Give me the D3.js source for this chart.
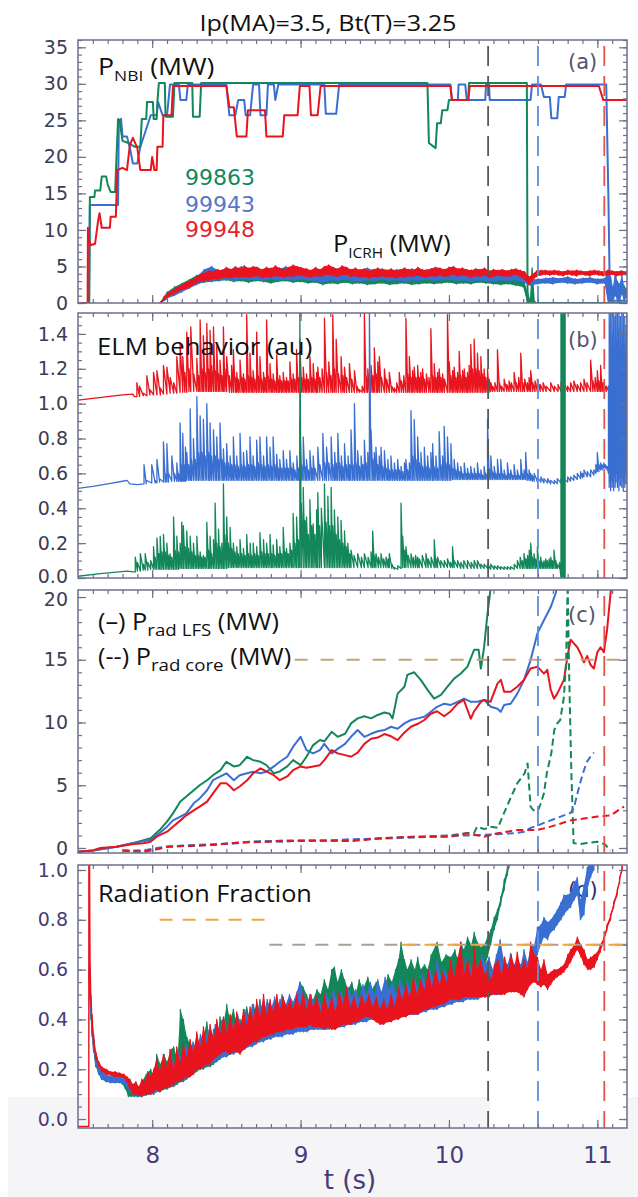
<!DOCTYPE html>
<html>
<head>
<meta charset="utf-8">
<script src="https://cdn.jsdelivr.net/npm/d3@7"></script>
<style>
  html, body { margin: 0; padding: 0; background: #fff; }
  svg { display: block; }
</style>
</head>
<body>
<svg id="chart" width="638" height="1197"></svg>
<script>
// ---------------- time axis ----------------
const timeDomain = [7.5, 11.2];
const xTickLabels = [8, 9, 10, 11];

// ---------------- y tick labels per panel ----------------
const yTicksA = [0, 5, 10, 15, 20, 25, 30, 35];
const yTicksB = [0, 0.2, 0.4, 0.6, 0.8, 1.0, 1.2, 1.4];
const yTicksC = [0, 5, 10, 15, 20];
const yTicksD = [0, 0.2, 0.4, 0.6, 0.8, 1.0];

// shots
const shots = ["99863", "99943", "99948"];

// event times (s) for the three shots
const eventTimes = [10.264, 10.60, 11.047];

// ---------------- (a) NBI power [t, MW] ----------------
const nbi99863 = [[7.50,0],[7.575,0],[7.58,14.5],[7.61,14.5],[7.615,15.4],[7.65,15.4],[7.66,17.3],[7.69,17.3],[7.70,16.2],[7.72,15.2],[7.75,15.2],[7.77,25.2],[7.78,25.0],[7.80,22.2],[7.84,21.9],[7.88,21.4],[7.92,21.4],[7.93,25.2],[7.96,25.2],[7.965,27.5],[8.005,27.5],[8.01,25.2],[8.03,25.2],[8.035,27.5],[8.045,30.1],[8.085,30.1],[8.09,25.5],[8.14,25.5],[8.15,30.1],[8.27,30.1],[8.275,25.5],[8.32,25.5],[8.33,30.1],[9.855,30.1],[9.865,21.9],[9.91,21.2],[9.92,24.6],[9.945,24.6],[9.955,26.4],[9.99,26.4],[10.0,27.8],[10.13,27.8],[10.135,30.1],[10.525,30.1],[10.53,0],[11.20,0]];
const nbi99943 = [[7.50,0],[7.575,0],[7.58,13.4],[7.77,13.4],[7.775,24.8],[7.79,25.2],[7.80,22.8],[7.83,22.8],[7.85,21.2],[7.87,19.1],[7.90,19.1],[7.92,21.4],[7.95,23.2],[7.99,25.7],[8.03,25.7],[8.04,27.5],[8.07,25.7],[8.10,25.7],[8.12,29.9],[8.18,29.9],[8.19,27.8],[8.23,27.8],[8.24,29.9],[8.50,29.9],[8.52,25.7],[8.56,25.7],[8.58,27.8],[8.62,27.8],[8.63,25.7],[8.66,25.7],[8.68,29.9],[8.72,29.9],[8.73,25.7],[8.77,25.7],[8.78,29.9],[8.82,29.9],[8.83,27.8],[8.85,29.9],[9.16,29.9],[9.17,25.9],[9.24,25.9],[9.26,29.9],[10.01,29.9],[10.02,27.8],[10.06,27.8],[10.065,29.9],[10.11,29.9],[10.12,27.8],[10.245,27.8],[10.25,29.9],[10.27,29.9],[10.275,27.8],[10.55,27.8],[10.56,29.9],[10.62,29.9],[10.64,28.2],[10.68,28.2],[10.69,25.3],[10.73,25.3],[10.74,28.2],[10.78,28.2],[10.79,29.9],[11.06,29.9],[11.075,14],[11.085,0.3],[11.20,0.3]];
const nbi99948 = [[7.50,0],[7.565,0],[7.567,10.3],[7.575,8.7],[7.585,7.9],[7.615,8.1],[7.635,11.2],[7.645,12.3],[7.66,10.3],[7.715,10.3],[7.72,11.8],[7.755,11.8],[7.765,18.2],[7.80,18.5],[7.83,18.2],[7.85,21.7],[7.87,22.6],[7.90,21.2],[7.92,18.2],[7.99,18.2],[8.00,20.0],[8.015,18.2],[8.03,18.2],[8.035,21.4],[8.07,21.4],[8.075,25.7],[8.13,25.7],[8.14,29.7],[8.50,29.7],[8.52,26.8],[8.55,26.8],[8.57,22.8],[8.635,22.8],[8.645,26.4],[8.76,26.4],[8.77,22.8],[8.88,22.8],[8.89,25.7],[8.98,25.7],[8.995,29.7],[9.06,29.7],[9.07,25.7],[9.115,25.7],[9.135,29.7],[10.01,29.7],[10.02,27.8],[10.13,27.8],[10.14,29.7],[11.01,29.7],[11.04,27.8],[11.20,27.8]];

// ---------------- (a) ICRH power [t, low, high] ----------------
const icrh99863 = [[8.05,0,0],[8.10,0.7,1.5],[8.15,1.2,2.2],[8.20,1.7,2.7],[8.25,2.2,3.2],[8.30,2.6,3.8],[8.35,2.8,4.0],[8.40,2.9,4.2],[8.45,3.0,4.3],[8.50,3.1,4.5],[8.55,2.9,4.4],[8.60,3.0,4.2],[8.65,2.8,4.4],[8.70,3.0,4.5],[8.75,2.9,4.3],[8.80,2.7,4.1],[8.85,2.9,4.4],[8.90,3.0,4.2],[8.95,2.8,4.0],[9.00,2.9,4.3],[9.05,2.7,4.1],[9.10,2.8,4.2],[9.15,2.5,3.9],[9.20,2.7,4.1],[9.25,2.6,4.0],[9.30,2.8,4.2],[9.35,2.6,3.9],[9.40,2.7,4.0],[9.45,2.5,3.8],[9.50,2.6,4.1],[9.55,2.7,4.0],[9.60,2.5,3.9],[9.65,2.6,4.0],[9.70,2.7,4.1],[9.75,2.5,3.8],[9.80,2.6,4.0],[9.85,2.7,4.2],[9.90,2.6,3.9],[9.95,2.7,4.1],[10.00,2.8,4.2],[10.05,2.6,4.0],[10.10,2.7,3.9],[10.15,2.6,4.1],[10.20,2.8,4.0],[10.25,2.7,3.9],[10.30,2.6,3.8],[10.35,2.5,3.7],[10.40,2.6,3.9],[10.45,2.4,3.6],[10.50,2.2,3.4],[10.53,0,1.5],[10.545,0,0.5],[10.56,0,4.8],[10.575,0,0.3],[10.60,-0.3,-0.3],[11.20,-0.3,-0.3]];
const icrh99943 = [[8.05,0,0],[8.10,0.6,1.3],[8.15,1.0,1.9],[8.20,1.5,2.6],[8.25,2.0,3.0],[8.30,2.5,3.6],[8.35,2.9,4.6],[8.40,3.0,5.0],[8.45,3.1,4.4],[8.50,3.2,4.8],[8.55,3.0,4.6],[8.60,3.3,5.0],[8.65,3.1,4.7],[8.70,3.2,4.9],[8.75,3.0,4.5],[8.80,3.3,4.8],[8.85,3.1,4.6],[8.90,3.2,5.0],[8.95,3.0,4.7],[9.00,3.3,4.9],[9.05,3.1,4.5],[9.10,3.0,4.4],[9.15,2.8,4.7],[9.20,3.1,4.9],[9.25,3.0,4.6],[9.30,3.2,4.8],[9.35,3.0,4.5],[9.40,2.9,4.6],[9.45,3.1,4.8],[9.50,3.0,4.4],[9.55,3.2,4.7],[9.60,3.0,4.5],[9.65,3.1,4.6],[9.70,2.9,4.4],[9.75,3.1,4.7],[9.80,3.0,4.5],[9.85,3.2,4.6],[9.90,3.0,4.8],[9.95,3.1,4.5],[10.00,3.2,4.7],[10.05,3.0,4.6],[10.10,3.1,4.4],[10.15,2.9,4.5],[10.20,3.1,4.6],[10.25,3.0,4.4],[10.30,2.9,4.3],[10.35,3.1,4.5],[10.40,3.0,4.4],[10.45,3.1,4.5],[10.50,2.8,4.2],[10.55,2.4,3.2],[10.60,2.6,3.3],[10.65,2.7,3.4],[10.70,2.6,3.5],[10.75,2.8,3.4],[10.80,2.7,3.6],[10.85,2.6,3.3],[10.90,2.7,3.4],[10.95,2.8,3.5],[11.00,2.6,3.3],[11.05,2.7,3.4],[11.075,0.0,4.5],[11.09,0.3,3.6],[11.105,0.0,2.2],[11.12,1.0,4.2],[11.135,0.4,3.0],[11.15,0.0,2.6],[11.165,1.2,3.8],[11.18,0.3,2.4],[11.20,0.8,1.8]];
const icrh99948 = [[8.05,0,0],[8.08,0.4,0.9],[8.11,0.9,1.4],[8.14,1.2,1.8],[8.17,1.5,2.2],[8.20,1.8,2.5],[8.23,2.0,2.9],[8.26,2.3,3.1],[8.29,2.6,3.5],[8.32,2.9,3.9],[8.35,3.0,4.1],[8.38,3.1,4.4],[8.41,3.3,4.3],[8.44,3.2,4.6],[8.47,3.4,4.5],[8.50,3.5,4.9],[8.53,3.4,4.6],[8.56,3.6,5.0],[8.59,3.5,4.7],[8.62,3.6,5.1],[8.65,3.5,4.8],[8.68,3.6,5.0],[8.71,3.7,4.9],[8.74,3.4,4.6],[8.77,3.6,4.9],[8.80,3.5,4.7],[8.83,3.7,5.1],[8.86,3.6,4.8],[8.89,3.5,4.6],[8.92,3.7,4.9],[8.95,3.6,5.2],[8.98,3.8,5.0],[9.01,3.7,4.8],[9.04,3.6,4.7],[9.07,3.5,4.5],[9.10,3.7,4.9],[9.13,3.6,4.6],[9.16,3.8,5.0],[9.19,3.9,5.2],[9.22,3.7,4.9],[9.25,3.6,4.7],[9.28,3.8,5.1],[9.31,3.9,4.9],[9.34,3.6,4.6],[9.37,3.7,4.8],[9.40,3.5,4.5],[9.43,3.6,4.7],[9.46,3.4,4.4],[9.49,3.6,4.6],[9.52,3.5,4.8],[9.55,3.7,4.6],[9.58,3.5,4.5],[9.61,3.6,4.7],[9.64,3.4,4.4],[9.67,3.6,4.6],[9.70,3.5,4.8],[9.73,3.7,4.6],[9.76,3.6,4.5],[9.79,3.8,4.9],[9.82,3.6,4.6],[9.85,3.5,4.4],[9.88,3.7,4.7],[9.91,3.6,4.9],[9.94,3.8,4.8],[9.97,3.6,4.6],[10.00,3.7,4.9],[10.03,3.9,5.0],[10.06,3.6,4.7],[10.09,3.8,4.8],[10.12,3.7,4.6],[10.15,3.5,4.5],[10.18,3.7,4.7],[10.21,3.6,4.6],[10.24,3.8,4.8],[10.27,3.5,4.4],[10.30,3.6,4.6],[10.33,3.8,4.5],[10.36,3.7,4.6],[10.39,3.6,4.4],[10.42,3.7,4.6],[10.45,3.9,4.7],[10.48,3.6,4.5],[10.51,3.2,4.3],[10.54,2.5,3.6],[10.56,3.0,3.9],[10.59,3.6,4.4],[10.62,3.8,4.5],[10.65,3.9,4.5],[10.68,3.8,4.4],[10.71,3.9,4.5],[10.74,3.8,4.4],[10.77,3.7,4.3],[10.80,3.9,4.5],[10.83,3.8,4.4],[10.86,3.7,4.5],[10.89,3.9,4.4],[10.92,3.8,4.3],[10.95,3.7,4.4],[10.98,3.9,4.5],[11.01,3.8,4.4],[11.04,3.7,4.3],[11.07,3.8,4.5],[11.10,3.9,4.4],[11.13,3.7,4.3],[11.16,3.8,4.4],[11.20,3.8,4.3]];

// ---------------- (b) ELM signal [t, low, high] ----------------
const elm99948 = [[7.50,1.02,1.02],[7.60,1.03,1.03],[7.70,1.04,1.04],[7.80,1.05,1.05],[7.87,1.055,1.055],[7.88,1.04,1.04],[7.897,1.04,1.12],[7.915,1.04,1.10],[7.94,1.045,1.06],[7.964,1.045,1.16],[7.985,1.05,1.08],[8.009,1.05,1.18],[8.032,1.05,1.19],[8.055,1.05,1.09],[8.076,1.055,1.22],[8.099,1.055,1.21],[8.121,1.06,1.15],[8.145,1.06,1.12],[8.166,1.06,1.27],[8.188,1.065,1.35],[8.206,1.065,1.27],[8.22,1.065,1.18],[8.233,1.065,1.41],[8.248,1.07,1.2],[8.26,1.07,1.44],[8.28,1.07,1.17],[8.301,1.07,1.26],[8.313,1.07,1.16],[8.323,1.07,1.48],[8.335,1.07,1.2],[8.345,1.07,1.39],[8.357,1.07,1.18],[8.368,1.07,1.46],[8.38,1.07,1.2],[8.39,1.07,1.42],[8.40,1.07,1.22],[8.413,1.07,1.44],[8.425,1.07,1.19],[8.435,1.07,1.33],[8.447,1.07,1.17],[8.457,1.07,1.25],[8.47,1.07,1.16],[8.48,1.07,1.44],[8.49,1.07,1.2],[8.502,1.07,1.27],[8.52,1.065,1.16],[8.535,1.065,1.22],[8.547,1.065,1.31],[8.56,1.065,1.15],[8.57,1.065,1.18],[8.58,1.065,1.14],[8.592,1.065,1.25],[8.605,1.065,1.15],[8.615,1.065,1.17],[8.625,1.065,1.14],[8.637,1.065,1.51],[8.648,1.065,1.16],[8.659,1.065,1.29],[8.67,1.065,1.15],[8.68,1.065,1.19],[8.692,1.065,1.14],[8.704,1.065,1.41],[8.715,1.065,1.16],[8.726,1.065,1.27],[8.738,1.065,1.14],[8.75,1.065,1.18],[8.76,1.065,1.15],[8.771,1.065,1.48],[8.782,1.065,1.16],[8.794,1.065,1.23],[8.805,1.065,1.14],[8.815,1.065,1.17],[8.827,1.065,1.13],[8.839,1.065,1.28],[8.85,1.065,1.14],[8.86,1.065,1.16],[8.872,1.065,1.13],[8.883,1.065,1.18],[8.895,1.065,1.13],[8.905,1.065,1.15],[8.917,1.065,1.13],[8.928,1.065,1.24],[8.94,1.065,1.14],[8.95,1.065,1.17],[8.962,1.065,1.14],[8.973,1.065,1.31],[8.985,1.065,1.15],[8.995,1.065,1.37],[9.007,1.065,1.15],[9.018,1.065,1.21],[9.03,1.065,1.14],[9.04,1.065,1.17],[9.052,1.065,1.14],[9.063,1.065,1.27],[9.075,1.065,1.15],[9.085,1.065,1.23],[9.097,1.065,1.14],[9.108,1.065,1.18],[9.116,1.065,1.21],[9.13,1.065,1.15],[9.145,1.065,1.2],[9.161,1.065,1.49],[9.175,1.065,1.18],[9.19,1.065,1.24],[9.205,1.065,1.16],[9.217,1.065,1.51],[9.228,1.065,1.2],[9.24,1.065,1.37],[9.255,1.065,1.17],[9.273,1.065,1.27],[9.285,1.065,1.16],[9.296,1.065,1.21],[9.31,1.065,1.15],[9.329,1.065,1.23],[9.345,1.065,1.14],[9.363,1.065,1.19],[9.38,1.065,1.1],[9.396,1.065,1.08],[9.415,1.065,1.1],[9.43,1.065,1.52],[9.442,1.065,1.16],[9.453,1.065,1.2],[9.465,1.065,1.15],[9.475,1.065,1.22],[9.487,1.065,1.16],[9.497,1.065,1.32],[9.51,1.065,1.17],[9.52,1.065,1.24],[9.531,1.065,1.27],[9.545,1.065,1.15],[9.565,1.065,1.2],[9.58,1.065,1.14],[9.598,1.065,1.18],[9.615,1.065,1.1],[9.632,1.065,1.09],[9.648,1.065,1.12],[9.665,1.065,1.18],[9.68,1.065,1.13],[9.695,1.065,1.16],[9.71,1.065,1.49],[9.722,1.065,1.17],[9.733,1.065,1.27],[9.745,1.065,1.15],[9.755,1.065,1.19],[9.766,1.065,1.21],[9.778,1.065,1.15],[9.789,1.065,1.22],[9.8,1.065,1.15],[9.81,1.065,1.18],[9.822,1.065,1.2],[9.835,1.065,1.14],[9.848,1.065,1.17],[9.865,1.065,1.15],[9.878,1.065,1.43],[9.89,1.065,1.16],[9.901,1.065,1.23],[9.912,1.065,1.15],[9.923,1.065,1.18],[9.934,1.065,1.2],[9.946,1.065,1.15],[9.957,1.065,1.17],[9.97,1.065,1.14],[9.99,1.065,1.51],[10.002,1.065,1.24],[10.013,1.065,1.16],[10.025,1.065,1.19],[10.035,1.065,1.21],[10.047,1.065,1.15],[10.058,1.065,1.18],[10.069,1.065,1.3],[10.08,1.065,1.16],[10.092,1.065,1.19],[10.103,1.065,1.2],[10.115,1.065,1.15],[10.125,1.065,1.18],[10.136,1.065,1.22],[10.147,1.065,1.34],[10.158,1.065,1.2],[10.17,1.065,1.37],[10.181,1.065,1.2],[10.192,1.065,1.29],[10.203,1.065,1.19],[10.215,1.065,1.27],[10.226,1.065,1.17],[10.237,1.065,1.2],[10.248,1.065,1.15],[10.26,1.065,1.2],[10.271,1.065,1.14],[10.282,1.07,1.12],[10.295,1.07,1.1],[10.31,1.07,1.12],[10.327,1.07,1.31],[10.34,1.07,1.12],[10.355,1.07,1.1],[10.372,1.07,1.14],[10.39,1.07,1.11],[10.405,1.07,1.13],[10.42,1.07,1.12],[10.439,1.07,1.18],[10.455,1.07,1.12],[10.47,1.07,1.15],[10.484,1.07,1.29],[10.497,1.07,1.12],[10.51,1.07,1.14],[10.528,1.07,1.12],[10.54,1.07,1.15],[10.551,1.07,1.19],[10.565,1.07,1.12],[10.58,1.07,1.13],[10.596,1.07,1.14],[10.615,1.07,1.11],[10.635,1.07,1.12],[10.655,1.07,1.1],[10.686,1.07,1.12],[10.71,1.07,1.1],[10.735,1.07,1.11],[10.755,1.07,1.12],[10.775,1.07,1.12],[10.8,1.07,1.1],[10.82,1.07,1.12],[10.842,1.07,1.13],[10.865,1.07,1.11],[10.887,1.07,1.12],[10.91,1.07,1.14],[10.93,1.07,1.12],[10.955,1.07,1.25],[10.97,1.07,1.13],[10.985,1.07,1.15],[11.0,1.07,1.19],[11.011,1.07,1.13],[11.022,1.07,1.22],[11.033,1.07,1.12],[11.044,1.07,1.12],[11.06,1.07,1.1],[11.075,1.075,1.1],[11.089,1.075,1.1],[11.11,1.075,1.09],[11.133,1.075,1.09],[11.155,1.075,1.09],[11.18,1.075,1.085],[11.20,1.075,1.08]];
const elm99943 = [[7.50,0.514,0.514],[7.60,0.525,0.525],[7.70,0.54,0.54],[7.80,0.555,0.555],[7.83,0.56,0.56],[7.85,0.54,0.54],[7.90,0.535,0.535],[7.945,0.54,0.65],[7.96,0.54,0.56],[7.997,0.545,0.65],[8.02,0.545,0.56],[8.032,0.545,0.68],[8.05,0.55,0.57],[8.076,0.55,0.78],[8.088,0.55,0.6],[8.099,0.55,0.77],[8.11,0.55,0.6],[8.132,0.555,0.70],[8.15,0.555,0.6],[8.166,0.555,0.66],[8.177,0.555,0.6],[8.188,0.555,0.89],[8.197,0.555,0.65],[8.206,0.555,0.83],[8.215,0.555,0.65],[8.224,0.555,0.75],[8.233,0.56,0.72],[8.245,0.56,0.65],[8.256,0.56,0.97],[8.265,0.56,0.68],[8.278,0.56,0.8],[8.29,0.56,0.68],[8.301,0.56,1.04],[8.312,0.56,0.72],[8.323,0.56,0.93],[8.335,0.56,0.72],[8.345,0.56,0.91],[8.357,0.56,0.7],[8.368,0.56,1.0],[8.38,0.56,0.72],[8.39,0.56,0.89],[8.40,0.56,0.7],[8.413,0.56,0.85],[8.425,0.56,0.7],[8.435,0.56,0.81],[8.447,0.56,0.68],[8.457,0.56,0.89],[8.47,0.56,0.68],[8.48,0.56,0.74],[8.49,0.56,0.66],[8.502,0.56,0.77],[8.513,0.56,0.66],[8.525,0.56,0.7],[8.536,0.56,0.65],[8.547,0.56,0.81],[8.558,0.56,0.65],[8.57,0.56,0.7],[8.58,0.56,0.64],[8.592,0.56,0.83],[8.603,0.56,0.65],[8.615,0.56,0.72],[8.626,0.56,0.64],[8.637,0.56,0.73],[8.648,0.56,0.65],[8.659,0.56,0.81],[8.67,0.56,0.65],[8.68,0.56,0.7],[8.692,0.56,0.64],[8.704,0.56,0.79],[8.715,0.56,0.66],[8.726,0.56,0.81],[8.738,0.56,0.65],[8.75,0.56,0.7],[8.76,0.56,0.64],[8.771,0.56,0.81],[8.782,0.56,0.65],[8.794,0.56,0.75],[8.805,0.56,0.64],[8.815,0.56,0.81],[8.827,0.56,0.65],[8.839,0.56,0.71],[8.85,0.56,0.63],[8.86,0.56,0.68],[8.872,0.56,0.63],[8.883,0.56,0.73],[8.895,0.56,0.63],[8.905,0.56,0.68],[8.917,0.56,0.63],[8.928,0.56,0.73],[8.94,0.56,0.63],[8.95,0.56,0.66],[8.962,0.56,0.62],[8.975,0.56,0.7],[8.985,0.56,0.63],[8.995,0.56,0.91],[9.007,0.56,0.65],[9.018,0.56,0.81],[9.03,0.56,0.64],[9.04,0.56,0.68],[9.052,0.56,0.62],[9.063,0.56,0.73],[9.075,0.56,0.63],[9.085,0.56,0.70],[9.097,0.56,0.63],[9.116,0.56,0.75],[9.13,0.56,0.65],[9.15,0.56,0.83],[9.163,0.56,0.66],[9.175,0.56,0.75],[9.19,0.56,0.66],[9.206,0.56,0.81],[9.218,0.56,0.65],[9.23,0.56,0.72],[9.24,0.56,0.66],[9.251,0.56,0.83],[9.263,0.56,0.66],[9.275,0.56,0.7],[9.285,0.56,0.64],[9.296,0.56,0.77],[9.308,0.56,0.65],[9.32,0.56,0.7],[9.33,0.56,0.65],[9.34,0.56,0.85],[9.352,0.56,0.65],[9.363,0.56,1.0],[9.374,0.56,0.66],[9.385,0.56,0.73],[9.397,0.56,0.64],[9.408,0.56,0.7],[9.42,0.56,0.65],[9.43,0.56,0.79],[9.442,0.56,0.66],[9.453,0.56,0.72],[9.464,0.56,1.52],[9.475,0.56,0.85],[9.487,0.56,0.68],[9.497,0.56,0.72],[9.508,0.56,0.75],[9.52,0.56,0.65],[9.53,0.56,0.7],[9.542,0.56,0.75],[9.553,0.56,0.64],[9.565,0.56,0.73],[9.577,0.56,0.63],[9.588,0.56,0.68],[9.598,0.56,0.62],[9.609,0.56,0.70],[9.62,0.56,0.62],[9.632,0.56,0.66],[9.643,0.56,0.62],[9.654,0.56,0.68],[9.666,0.56,0.62],[9.677,0.56,0.64],[9.688,0.56,0.61],[9.7,0.56,0.66],[9.71,0.56,0.68],[9.722,0.56,0.62],[9.733,0.56,0.66],[9.744,0.56,0.96],[9.755,0.56,0.7],[9.766,0.56,0.91],[9.778,0.56,0.68],[9.789,0.56,0.81],[9.8,0.56,0.66],[9.811,0.56,0.72],[9.822,0.56,0.64],[9.834,0.56,0.75],[9.845,0.56,0.64],[9.856,0.56,0.70],[9.867,0.56,0.63],[9.878,0.56,0.72],[9.89,0.56,0.77],[9.9,0.56,0.64],[9.912,0.56,0.7],[9.923,0.56,0.63],[9.934,0.56,0.84],[9.946,0.56,0.65],[9.957,0.56,0.7],[9.968,0.56,0.87],[9.979,0.56,0.66],[9.99,0.56,0.81],[10.002,0.56,0.65],[10.013,0.56,0.77],[10.024,0.565,0.63],[10.035,0.565,0.68],[10.047,0.565,0.62],[10.058,0.565,0.66],[10.07,0.565,0.61],[10.08,0.565,0.64],[10.092,0.565,0.6],[10.103,0.565,0.66],[10.115,0.565,0.6],[10.125,0.565,0.63],[10.136,0.565,0.6],[10.147,0.565,0.64],[10.158,0.565,0.6],[10.17,0.565,0.63],[10.181,0.565,0.6],[10.192,0.565,0.66],[10.203,0.565,0.6],[10.215,0.565,0.62],[10.226,0.565,0.59],[10.237,0.565,0.64],[10.248,0.565,0.6],[10.26,0.565,0.91],[10.271,0.565,0.63],[10.282,0.565,0.70],[10.293,0.565,0.61],[10.305,0.565,0.64],[10.316,0.565,0.6],[10.327,0.565,0.68],[10.338,0.565,0.6],[10.349,0.565,0.68],[10.36,0.565,0.6],[10.372,0.565,0.62],[10.383,0.565,0.59],[10.394,0.565,0.66],[10.405,0.565,0.6],[10.416,0.565,0.62],[10.428,0.565,0.59],[10.439,0.565,0.65],[10.45,0.565,0.59],[10.461,0.565,0.62],[10.472,0.565,0.59],[10.484,0.565,0.68],[10.495,0.565,0.6],[10.506,0.565,0.62],[10.517,0.565,0.72],[10.528,0.56,0.6],[10.54,0.56,0.62],[10.551,0.56,0.6],[10.562,0.555,0.59],[10.575,0.555,0.6],[10.596,0.55,0.58],[10.62,0.55,0.58],[10.64,0.545,0.57],[10.665,0.545,0.57],[10.686,0.54,0.56],[10.71,0.54,0.56],[10.73,0.54,0.57],[10.755,0.545,0.57],[10.775,0.545,0.57],[10.8,0.55,0.58],[10.82,0.555,0.58],[10.842,0.56,0.59],[10.865,0.565,0.6],[10.887,0.57,0.61],[10.9,0.575,0.6],[10.91,0.58,0.62],[10.932,0.58,0.61],[10.955,0.58,0.62],[10.977,0.59,0.62],[10.99,0.6,0.65],[11.0,0.61,0.72],[11.011,0.61,0.65],[11.022,0.62,0.66],[11.033,0.62,0.65],[11.044,0.63,0.66],[11.055,0.63,0.65],[11.066,0.62,0.64],[11.075,0.6,1.1],[11.08,0.52,1.52],[11.085,0.55,1.45],[11.09,0.5,1.52],[11.095,0.56,1.3],[11.1,0.52,1.52],[11.105,0.55,1.4],[11.11,0.5,1.52],[11.115,0.58,1.25],[11.12,0.52,1.5],[11.125,0.55,1.52],[11.13,0.6,1.35],[11.135,0.52,1.52],[11.14,0.56,1.42],[11.145,0.5,1.52],[11.15,0.58,1.3],[11.155,0.53,1.5],[11.16,0.6,1.2],[11.165,0.52,1.52],[11.17,0.57,1.4],[11.175,0.5,1.52],[11.18,0.55,1.35],[11.185,0.52,1.5],[11.19,0.6,1.25],[11.195,0.54,1.45],[11.2,0.55,1.52]];
const elm99863 = [[7.50,0.01,0.01],[7.65,0.025,0.025],[7.83,0.04,0.04],[7.875,0.035,0.035],[7.886,0.035,0.12],[7.90,0.04,0.09],[7.92,0.04,0.14],[7.94,0.045,0.08],[7.953,0.045,0.14],[7.97,0.045,0.09],[7.99,0.05,0.1],[8.009,0.05,0.18],[8.02,0.05,0.12],[8.032,0.05,0.23],[8.045,0.05,0.14],[8.054,0.05,0.24],[8.065,0.05,0.15],[8.076,0.05,0.25],[8.088,0.05,0.15],[8.099,0.05,0.2],[8.11,0.05,0.13],[8.12,0.05,0.14],[8.132,0.05,0.12],[8.144,0.05,0.35],[8.155,0.05,0.16],[8.166,0.05,0.24],[8.177,0.05,0.15],[8.188,0.055,0.2],[8.199,0.055,0.32],[8.21,0.055,0.3],[8.222,0.055,0.18],[8.233,0.055,0.27],[8.244,0.055,0.17],[8.256,0.055,0.24],[8.267,0.055,0.15],[8.278,0.055,0.2],[8.29,0.055,0.13],[8.301,0.055,0.24],[8.312,0.055,0.13],[8.323,0.055,0.15],[8.334,0.055,0.12],[8.345,0.055,0.13],[8.357,0.055,0.12],[8.368,0.055,0.32],[8.38,0.055,0.16],[8.39,0.055,0.24],[8.40,0.055,0.14],[8.413,0.055,0.22],[8.424,0.055,0.43],[8.435,0.055,0.2],[8.447,0.055,0.28],[8.457,0.055,0.18],[8.469,0.055,0.2],[8.48,0.055,0.54],[8.49,0.055,0.25],[8.502,0.055,0.35],[8.513,0.06,0.2],[8.525,0.06,0.29],[8.536,0.06,0.17],[8.547,0.06,0.2],[8.558,0.06,0.15],[8.57,0.06,0.18],[8.58,0.06,0.14],[8.592,0.06,0.22],[8.603,0.06,0.14],[8.615,0.06,0.17],[8.626,0.06,0.13],[8.637,0.06,0.25],[8.648,0.06,0.14],[8.66,0.06,0.2],[8.67,0.06,0.13],[8.681,0.06,0.2],[8.692,0.06,0.14],[8.704,0.06,0.18],[8.715,0.06,0.13],[8.726,0.06,0.26],[8.738,0.06,0.15],[8.75,0.06,0.22],[8.76,0.06,0.14],[8.771,0.06,0.2],[8.782,0.06,0.14],[8.794,0.06,0.25],[8.805,0.06,0.14],[8.815,0.06,0.19],[8.827,0.06,0.13],[8.839,0.06,0.22],[8.85,0.06,0.14],[8.86,0.06,0.18],[8.872,0.06,0.14],[8.883,0.06,0.29],[8.895,0.06,0.15],[8.905,0.06,0.17],[8.917,0.06,0.14],[8.928,0.06,0.2],[8.94,0.06,0.16],[8.95,0.06,0.37],[8.962,0.06,0.2],[8.973,0.06,0.35],[8.985,0.06,0.22],[8.995,0.06,1.52],[9.005,0.06,0.43],[9.018,0.06,0.52],[9.03,0.06,0.33],[9.04,0.06,0.35],[9.052,0.06,0.25],[9.063,0.06,0.45],[9.075,0.06,0.3],[9.085,0.06,0.31],[9.097,0.06,0.25],[9.108,0.06,0.39],[9.116,0.06,0.49],[9.128,0.06,0.3],[9.14,0.06,0.4],[9.161,0.06,0.54],[9.172,0.06,0.32],[9.184,0.06,0.47],[9.195,0.06,0.3],[9.206,0.06,0.52],[9.217,0.06,0.3],[9.228,0.06,0.39],[9.24,0.06,0.25],[9.251,0.06,0.35],[9.262,0.06,0.22],[9.273,0.06,0.33],[9.285,0.06,0.2],[9.296,0.06,0.27],[9.307,0.06,0.18],[9.318,0.06,0.2],[9.33,0.06,0.14],[9.34,0.06,0.16],[9.36,0.06,0.13],[9.385,0.06,0.14],[9.41,0.06,0.12],[9.43,0.06,0.14],[9.455,0.06,0.12],[9.475,0.06,0.15],[9.486,0.06,0.27],[9.497,0.06,0.13],[9.508,0.06,0.14],[9.525,0.06,0.12],[9.542,0.06,0.14],[9.56,0.06,0.11],[9.576,0.06,0.12],[9.59,0.06,0.11],[9.598,0.06,0.14],[9.615,0.055,0.08],[9.632,0.05,0.06],[9.655,0.05,0.07],[9.677,0.055,0.43],[9.688,0.06,0.24],[9.7,0.06,0.16],[9.71,0.06,0.18],[9.725,0.06,0.13],[9.744,0.06,0.14],[9.76,0.06,0.12],[9.775,0.06,0.13],[9.789,0.06,0.12],[9.8,0.06,0.11],[9.82,0.06,0.13],[9.845,0.06,0.14],[9.86,0.06,0.11],[9.88,0.06,0.12],[9.901,0.06,0.22],[9.912,0.06,0.11],[9.923,0.06,0.12],[9.945,0.06,0.1],[9.968,0.06,0.1],[9.99,0.06,0.11],[10.01,0.06,0.09],[10.024,0.06,0.18],[10.035,0.06,0.1],[10.058,0.06,0.1],[10.08,0.055,0.09],[10.1,0.055,0.1],[10.125,0.055,0.1],[10.15,0.055,0.09],[10.17,0.055,0.1],[10.192,0.055,0.1],[10.215,0.055,0.08],[10.237,0.055,0.08],[10.26,0.055,0.08],[10.282,0.05,0.08],[10.305,0.05,0.07],[10.327,0.05,0.07],[10.349,0.05,0.065],[10.372,0.05,0.065],[10.394,0.05,0.065],[10.416,0.05,0.065],[10.44,0.05,0.08],[10.461,0.055,0.1],[10.48,0.055,0.12],[10.495,0.055,0.1],[10.506,0.055,0.14],[10.52,0.055,0.11],[10.53,0.055,0.13],[10.541,0.055,0.16],[10.551,0.055,0.2],[10.562,0.055,0.12],[10.573,0.055,0.14],[10.585,0.055,0.11],[10.596,0.055,0.18],[10.607,0.055,0.1],[10.618,0.055,0.12],[10.63,0.055,0.09],[10.64,0.055,0.1],[10.652,0.055,0.11],[10.663,0.055,0.1],[10.675,0.055,0.11],[10.686,0.055,0.12],[10.697,0.055,0.1],[10.708,0.055,0.16],[10.72,0.055,0.1],[10.73,0.055,0.08],[10.745,0.055,0.09],[10.755,0.0,1.52],[10.762,0.0,1.52],[10.769,0.0,1.52],[10.776,0.0,1.52],[10.783,0.0,1.52],[10.786,1.52,1.52]];

// ---------------- (c) radiated power, LFS (solid) [t, MW] ----------------
const pradLfs99863 = [[7.50,-0.3],[7.60,-0.2],[7.76,0.1],[7.875,0.4],[7.99,0.77],[8.05,1.43],[8.10,2.1],[8.14,2.76],[8.19,3.7],[8.23,4.1],[8.28,4.6],[8.32,5.0],[8.37,5.4],[8.41,5.8],[8.46,6.2],[8.50,6.87],[8.55,6.5],[8.59,6.6],[8.64,7.27],[8.68,7.0],[8.73,6.87],[8.77,6.6],[8.82,5.95],[8.86,6.1],[8.91,6.5],[8.95,7.0],[9.0,6.6],[9.04,7.27],[9.085,8.2],[9.13,8.6],[9.16,8.5],[9.21,9.26],[9.25,8.86],[9.30,9.1],[9.34,9.93],[9.385,10.33],[9.43,10.5],[9.475,10.33],[9.52,10.6],[9.565,10.8],[9.60,10.7],[9.62,10.33],[9.654,12.3],[9.70,12.85],[9.72,13.8],[9.766,14.0],[9.81,13.4],[9.856,12.6],[9.90,11.9],[9.946,12.2],[9.99,12.85],[10.035,13.5],[10.08,13.9],[10.125,14.45],[10.17,15.8],[10.20,15.8],[10.215,14.3],[10.237,16.0],[10.26,18.7],[10.282,20.8],[10.30,23]];
const pradLfs99943 = [[7.50,-0.3],[7.60,-0.2],[7.76,0.1],[7.875,0.4],[7.99,0.65],[8.05,1.2],[8.10,1.7],[8.14,2.2],[8.19,2.5],[8.23,2.76],[8.28,3.56],[8.32,3.95],[8.37,4.6],[8.41,5.4],[8.46,5.7],[8.50,5.95],[8.55,5.4],[8.59,5.8],[8.64,5.95],[8.68,6.08],[8.73,5.95],[8.77,6.08],[8.82,6.5],[8.86,6.87],[8.91,7.27],[8.95,8.07],[9.0,8.86],[9.04,7.8],[9.085,7.54],[9.13,7.8],[9.16,8.3],[9.21,7.54],[9.25,7.9],[9.30,8.3],[9.34,8.86],[9.385,9.4],[9.43,8.86],[9.475,9.1],[9.52,9.3],[9.565,9.4],[9.61,9.66],[9.654,9.5],[9.70,9.93],[9.744,10.2],[9.79,10.33],[9.834,10.46],[9.878,10.85],[9.92,11.25],[9.968,11.5],[10.013,11.4],[10.058,11.65],[10.103,11.9],[10.147,11.65],[10.192,11.65],[10.237,11.8],[10.282,11.25],[10.327,11.1],[10.349,10.85],[10.372,11.4],[10.416,11.5],[10.461,12.3],[10.506,13.4],[10.551,15.0],[10.596,17.1],[10.64,18.15],[10.686,19.2],[10.719,20.3],[10.74,21.5]];
const pradLfs99948 = [[7.50,-0.3],[7.60,-0.2],[7.65,0.0],[7.76,0.1],[7.875,0.32],[7.94,0.37],[7.99,0.5],[8.03,0.9],[8.10,1.3],[8.14,1.7],[8.19,2.2],[8.23,2.6],[8.28,3.0],[8.32,3.3],[8.37,3.7],[8.41,4.35],[8.46,5.15],[8.50,5.15],[8.525,4.9],[8.55,4.6],[8.59,4.9],[8.64,5.4],[8.68,5.95],[8.73,6.35],[8.77,6.1],[8.82,5.8],[8.86,5.4],[8.91,5.7],[8.95,6.2],[9.0,6.5],[9.04,6.4],[9.085,6.5],[9.13,6.6],[9.16,7.0],[9.21,7.8],[9.25,7.54],[9.30,7.4],[9.34,7.27],[9.385,7.6],[9.43,8.3],[9.475,8.7],[9.52,8.8],[9.565,9.08],[9.61,8.9],[9.654,8.6],[9.70,9.2],[9.744,9.66],[9.79,9.9],[9.834,10.2],[9.878,10.7],[9.92,10.9],[9.968,10.5],[10.013,10.9],[10.058,11.5],[10.10,11.8],[10.147,10.3],[10.17,10.9],[10.215,11.65],[10.237,11.8],[10.28,11.65],[10.327,13.1],[10.35,13.4],[10.372,12.45],[10.416,12.45],[10.46,12.85],[10.506,13.4],[10.55,14.3],[10.596,14.45],[10.64,13.9],[10.663,14.2],[10.686,12.6],[10.708,11.9],[10.73,12.3],[10.775,13.4],[10.798,15.2],[10.82,16.6],[10.842,16.3],[10.865,16.0],[10.887,15.5],[10.91,14.8],[10.932,15.3],[10.954,14.6],[10.977,14.3],[11.0,15.6],[11.022,16.0],[11.044,15.6],[11.066,17.4],[11.089,20.3],[11.11,22]];

// ---------------- (c) radiated power, core (dashed) [t, MW] ----------------
const pradCore99863 = [[7.80,-0.2],[7.94,-0.3],[8.03,-0.1],[8.10,0.1],[8.21,0.15],[8.32,0.2],[8.43,0.3],[8.55,0.4],[8.66,0.5],[8.77,0.5],[8.88,0.6],[9.0,0.6],[9.13,0.6],[9.34,0.6],[9.565,0.8],[9.79,0.9],[10.01,1.0],[10.125,1.2],[10.17,1.2],[10.19,1.7],[10.24,1.5],[10.28,1.7],[10.33,1.6],[10.37,2.76],[10.42,4.1],[10.46,5.15],[10.51,5.95],[10.53,6.74],[10.55,3.3],[10.57,3.0],[10.60,3.0],[10.62,3.6],[10.64,4.35],[10.66,6.0],[10.69,7.54],[10.71,9.4],[10.73,9.93],[10.75,10.2],[10.775,12.05],[10.79,15],[10.80,21],[10.81,14],[10.825,6],[10.84,0.4],[10.88,0.3],[10.93,0.4],[11.0,0.5],[11.05,0.3],[11.09,-0.2]];
const pradCore99943 = [[7.80,-0.2],[7.94,-0.2],[8.03,0.0],[8.10,0.1],[8.21,0.2],[8.32,0.25],[8.43,0.3],[8.55,0.35],[8.66,0.5],[8.77,0.55],[8.88,0.5],[9.0,0.6],[9.13,0.55],[9.34,0.7],[9.565,0.75],[9.79,0.85],[10.01,0.95],[10.125,1.0],[10.237,1.05],[10.327,1.1],[10.461,1.2],[10.506,1.3],[10.551,1.6],[10.60,1.8],[10.64,2.0],[10.686,2.2],[10.73,2.4],[10.775,2.6],[10.82,2.8],[10.842,3.2],[10.865,4.3],[10.887,5.3],[10.91,6.2],[10.932,6.9],[10.955,7.3],[10.977,7.6]];
const pradCore99948 = [[7.80,-0.2],[7.94,-0.3],[8.03,-0.1],[8.10,0.1],[8.21,0.15],[8.32,0.2],[8.43,0.25],[8.55,0.4],[8.66,0.45],[8.77,0.5],[8.88,0.55],[9.0,0.55],[9.13,0.6],[9.34,0.55],[9.565,0.8],[9.79,0.9],[10.01,0.9],[10.125,1.17],[10.237,0.9],[10.327,1.17],[10.461,1.43],[10.596,1.43],[10.686,1.7],[10.82,2.2],[10.91,2.35],[11.0,2.5],[11.09,2.6],[11.18,3.3]];

// ---------------- (d) radiation fraction [t, low, high] ----------------
const frad99863 = [[7.576,0.56,0.6],[7.58,0.48,0.54],[7.587,0.4,0.45],[7.595,0.33,0.38],[7.605,0.27,0.31],[7.62,0.21,0.24],[7.64,0.18,0.2],[7.66,0.16,0.19],[7.69,0.15,0.18],[7.72,0.15,0.17],[7.75,0.15,0.175],[7.78,0.15,0.17],[7.80,0.14,0.165],[7.82,0.12,0.15],[7.84,0.09,0.13],[7.86,0.09,0.12],[7.88,0.09,0.14],[7.90,0.09,0.12],[7.93,0.09,0.15],[7.96,0.095,0.18],[7.99,0.1,0.2],[8.01,0.1,0.17],[8.03,0.11,0.26],[8.055,0.11,0.22],[8.08,0.12,0.26],[8.10,0.12,0.23],[8.13,0.13,0.28],[8.145,0.13,0.29],[8.17,0.14,0.24],[8.19,0.15,0.44],[8.21,0.15,0.4],[8.233,0.16,0.33],[8.255,0.17,0.3],[8.278,0.18,0.26],[8.30,0.19,0.32],[8.323,0.2,0.29],[8.345,0.2,0.33],[8.368,0.21,0.39],[8.39,0.21,0.3],[8.413,0.22,0.36],[8.435,0.23,0.31],[8.457,0.24,0.41],[8.48,0.25,0.38],[8.502,0.25,0.46],[8.525,0.26,0.4],[8.547,0.27,0.44],[8.57,0.27,0.38],[8.592,0.28,0.4],[8.615,0.29,0.35],[8.637,0.29,0.45],[8.66,0.3,0.4],[8.682,0.3,0.46],[8.704,0.31,0.42],[8.726,0.31,0.48],[8.75,0.32,0.42],[8.771,0.32,0.45],[8.794,0.33,0.4],[8.816,0.33,0.46],[8.84,0.34,0.42],[8.861,0.34,0.48],[8.883,0.34,0.43],[8.906,0.35,0.46],[8.93,0.35,0.44],[8.951,0.35,0.47],[8.973,0.35,0.5],[8.995,0.36,0.55],[9.018,0.36,0.53],[9.04,0.36,0.5],[9.063,0.37,0.47],[9.085,0.36,0.48],[9.11,0.37,0.52],[9.135,0.37,0.5],[9.16,0.37,0.56],[9.185,0.37,0.52],[9.21,0.38,0.6],[9.228,0.38,0.61],[9.25,0.38,0.55],[9.275,0.38,0.6],[9.296,0.38,0.56],[9.32,0.38,0.52],[9.345,0.38,0.55],[9.37,0.39,0.5],[9.395,0.39,0.56],[9.42,0.4,0.52],[9.453,0.41,0.57],[9.48,0.41,0.52],[9.51,0.42,0.55],[9.54,0.42,0.5],[9.565,0.43,0.53],[9.59,0.43,0.58],[9.615,0.43,0.55],[9.64,0.44,0.6],[9.66,0.44,0.64],[9.677,0.44,0.71],[9.70,0.45,0.64],[9.72,0.45,0.6],[9.745,0.45,0.64],[9.77,0.45,0.6],[9.789,0.45,0.65],[9.81,0.46,0.6],[9.835,0.46,0.62],[9.856,0.47,0.6],[9.88,0.47,0.66],[9.92,0.48,0.71],[9.95,0.48,0.63],[9.98,0.49,0.66],[10.013,0.5,0.65],[10.04,0.5,0.68],[10.06,0.51,0.64],[10.08,0.52,0.71],[10.1,0.53,0.68],[10.125,0.55,0.73],[10.15,0.57,0.7],[10.17,0.58,0.75],[10.192,0.6,0.71],[10.215,0.6,0.69],[10.237,0.6,0.7],[10.26,0.65,0.73],[10.282,0.7,0.76],[10.305,0.76,0.81],[10.327,0.8,0.84],[10.349,0.86,0.89],[10.372,0.92,0.96],[10.394,0.98,1.013],[10.41,1.02,1.05]];
const frad99943 = [[7.576,0.58,0.62],[7.58,0.5,0.56],[7.587,0.42,0.47],[7.595,0.34,0.39],[7.605,0.28,0.32],[7.62,0.22,0.25],[7.64,0.18,0.21],[7.66,0.16,0.19],[7.69,0.15,0.18],[7.72,0.145,0.17],[7.75,0.145,0.175],[7.78,0.145,0.17],[7.81,0.14,0.17],[7.83,0.13,0.16],[7.85,0.11,0.15],[7.87,0.1,0.13],[7.89,0.1,0.14],[7.91,0.09,0.12],[7.93,0.09,0.14],[7.95,0.095,0.13],[7.97,0.1,0.16],[7.99,0.1,0.15],[8.01,0.1,0.18],[8.03,0.11,0.2],[8.05,0.11,0.17],[8.075,0.12,0.22],[8.10,0.13,0.2],[8.125,0.13,0.25],[8.15,0.14,0.22],[8.175,0.15,0.27],[8.2,0.15,0.24],[8.225,0.16,0.3],[8.25,0.17,0.26],[8.275,0.18,0.31],[8.3,0.2,0.28],[8.325,0.2,0.34],[8.35,0.21,0.3],[8.375,0.22,0.36],[8.4,0.22,0.32],[8.425,0.23,0.38],[8.45,0.24,0.34],[8.475,0.25,0.4],[8.5,0.25,0.36],[8.525,0.26,0.41],[8.55,0.26,0.37],[8.575,0.27,0.42],[8.6,0.27,0.38],[8.625,0.28,0.44],[8.65,0.29,0.4],[8.675,0.29,0.46],[8.7,0.3,0.41],[8.725,0.31,0.47],[8.75,0.31,0.42],[8.775,0.32,0.48],[8.8,0.32,0.44],[8.825,0.33,0.49],[8.85,0.33,0.45],[8.875,0.33,0.5],[8.9,0.34,0.46],[8.925,0.34,0.5],[8.95,0.34,0.47],[8.975,0.35,0.51],[8.995,0.35,0.55],[9.02,0.35,0.5],[9.045,0.35,0.47],[9.07,0.36,0.5],[9.095,0.36,0.46],[9.12,0.36,0.48],[9.145,0.36,0.45],[9.17,0.36,0.5],[9.195,0.36,0.47],[9.22,0.37,0.52],[9.245,0.37,0.48],[9.27,0.37,0.51],[9.295,0.37,0.47],[9.32,0.38,0.53],[9.345,0.38,0.49],[9.37,0.38,0.52],[9.395,0.39,0.48],[9.42,0.39,0.54],[9.445,0.39,0.5],[9.47,0.4,0.55],[9.495,0.4,0.5],[9.52,0.4,0.56],[9.545,0.41,0.51],[9.57,0.41,0.57],[9.595,0.41,0.52],[9.62,0.41,0.55],[9.645,0.41,0.5],[9.67,0.42,0.56],[9.695,0.42,0.52],[9.72,0.42,0.55],[9.745,0.42,0.51],[9.77,0.42,0.56],[9.795,0.42,0.52],[9.82,0.43,0.58],[9.845,0.43,0.54],[9.87,0.44,0.6],[9.895,0.44,0.56],[9.92,0.44,0.64],[9.945,0.45,0.57],[9.97,0.45,0.6],[9.995,0.46,0.56],[10.02,0.46,0.6],[10.045,0.47,0.57],[10.07,0.47,0.62],[10.095,0.47,0.58],[10.12,0.48,0.65],[10.145,0.48,0.6],[10.17,0.48,0.64],[10.195,0.48,0.6],[10.22,0.49,0.66],[10.245,0.49,0.62],[10.27,0.49,0.65],[10.295,0.5,0.6],[10.32,0.5,0.66],[10.345,0.5,0.72],[10.37,0.51,0.64],[10.395,0.52,0.62],[10.415,0.52,0.665],[10.44,0.52,0.62],[10.461,0.53,0.64],[10.485,0.53,0.62],[10.506,0.54,0.68],[10.53,0.54,0.63],[10.551,0.545,0.69],[10.575,0.6,0.7],[10.596,0.66,0.77],[10.62,0.7,0.78],[10.64,0.73,0.81],[10.665,0.72,0.79],[10.686,0.75,0.8],[10.71,0.76,0.82],[10.73,0.78,0.84],[10.755,0.8,0.87],[10.775,0.82,0.9],[10.8,0.84,0.9],[10.82,0.85,0.91],[10.845,0.88,0.95],[10.865,0.9,0.97],[10.887,0.8,0.88],[10.91,0.82,0.94],[10.932,0.92,1.01],[10.955,0.97,1.04],[10.977,1.0,1.06]];
const frad99948 = [[7.50,-0.03,-0.03],[7.571,-0.03,-0.03],[7.573,-0.03,1.05],[7.578,0.75,1.05],[7.582,0.55,0.62],[7.588,0.45,0.5],[7.595,0.36,0.42],[7.605,0.3,0.34],[7.62,0.24,0.27],[7.64,0.21,0.23],[7.66,0.19,0.21],[7.69,0.18,0.2],[7.72,0.175,0.19],[7.75,0.17,0.19],[7.78,0.17,0.185],[7.81,0.165,0.18],[7.83,0.15,0.17],[7.85,0.12,0.16],[7.87,0.1,0.14],[7.89,0.1,0.15],[7.91,0.095,0.13],[7.93,0.09,0.16],[7.95,0.1,0.15],[7.97,0.1,0.19],[7.99,0.1,0.17],[8.01,0.11,0.2],[8.03,0.12,0.24],[8.05,0.11,0.19],[8.075,0.12,0.26],[8.10,0.13,0.21],[8.12,0.13,0.28],[8.145,0.14,0.2],[8.165,0.15,0.29],[8.19,0.15,0.23],[8.21,0.16,0.3],[8.233,0.17,0.25],[8.255,0.17,0.32],[8.278,0.18,0.27],[8.30,0.2,0.35],[8.323,0.2,0.29],[8.345,0.21,0.37],[8.368,0.22,0.3],[8.39,0.22,0.38],[8.413,0.24,0.32],[8.435,0.25,0.4],[8.457,0.26,0.34],[8.48,0.27,0.41],[8.502,0.27,0.35],[8.525,0.26,0.42],[8.547,0.27,0.36],[8.57,0.27,0.43],[8.592,0.26,0.37],[8.615,0.28,0.44],[8.637,0.29,0.38],[8.66,0.3,0.45],[8.682,0.31,0.4],[8.704,0.31,0.48],[8.726,0.32,0.41],[8.75,0.33,0.5],[8.771,0.33,0.42],[8.794,0.34,0.48],[8.816,0.34,0.43],[8.84,0.35,0.5],[8.861,0.35,0.44],[8.883,0.35,0.49],[8.906,0.36,0.45],[8.93,0.36,0.48],[8.951,0.36,0.44],[8.973,0.37,0.5],[8.995,0.37,0.45],[9.018,0.37,0.51],[9.04,0.37,0.44],[9.063,0.38,0.5],[9.085,0.37,0.45],[9.11,0.37,0.49],[9.135,0.37,0.43],[9.16,0.36,0.5],[9.185,0.37,0.44],[9.21,0.36,0.49],[9.235,0.36,0.43],[9.26,0.37,0.51],[9.285,0.38,0.46],[9.31,0.38,0.53],[9.335,0.38,0.45],[9.36,0.39,0.49],[9.385,0.39,0.44],[9.41,0.4,0.5],[9.435,0.41,0.46],[9.46,0.41,0.5],[9.485,0.4,0.45],[9.51,0.39,0.49],[9.535,0.38,0.44],[9.56,0.38,0.48],[9.585,0.39,0.44],[9.61,0.39,0.5],[9.635,0.4,0.45],[9.66,0.4,0.53],[9.685,0.41,0.48],[9.71,0.41,0.54],[9.735,0.42,0.49],[9.76,0.42,0.57],[9.785,0.42,0.5],[9.81,0.43,0.56],[9.835,0.44,0.52],[9.86,0.44,0.6],[9.885,0.45,0.53],[9.91,0.45,0.6],[9.935,0.46,0.54],[9.96,0.46,0.59],[9.985,0.47,0.55],[10.01,0.48,0.64],[10.035,0.48,0.57],[10.06,0.48,0.65],[10.08,0.48,0.71],[10.1,0.49,0.58],[10.125,0.49,0.64],[10.15,0.49,0.57],[10.17,0.49,0.69],[10.19,0.49,0.6],[10.215,0.49,0.64],[10.24,0.49,0.58],[10.26,0.49,0.6],[10.285,0.5,0.56],[10.31,0.5,0.62],[10.33,0.5,0.64],[10.355,0.5,0.58],[10.375,0.5,0.65],[10.4,0.51,0.6],[10.42,0.51,0.66],[10.44,0.51,0.61],[10.46,0.51,0.67],[10.485,0.5,0.6],[10.506,0.49,0.64],[10.53,0.52,0.6],[10.55,0.54,0.71],[10.575,0.55,0.66],[10.596,0.54,0.65],[10.62,0.53,0.6],[10.64,0.54,0.64],[10.665,0.52,0.58],[10.686,0.54,0.59],[10.71,0.56,0.6],[10.73,0.57,0.6],[10.755,0.58,0.61],[10.775,0.59,0.62],[10.8,0.61,0.66],[10.82,0.63,0.68],[10.845,0.66,0.7],[10.865,0.68,0.73],[10.89,0.65,0.7],[10.91,0.62,0.68],[10.935,0.6,0.64],[10.955,0.6,0.65],[10.98,0.61,0.66],[11.0,0.64,0.67],[11.02,0.67,0.7],[11.044,0.71,0.73],[11.065,0.76,0.78],[11.089,0.8,0.82],[11.11,0.85,0.87],[11.134,0.9,0.92],[11.15,0.95,0.97],[11.167,1.0,1.02],[11.18,1.04,1.06]];

// reference levels: [t start, t end, value]
const pradRefLevel = [8.96, 11.2, 15];
const fradRefLevelHigh = [8.05, 8.78, 0.8];
const fradRefLevelLow = [8.79, 11.2, 0.7];

// ======================================================================
const svg = d3.select("#chart");
const X0 = 78, X1 = 627;
const col = { g: "#13875a", b: "#3a6fd2", r: "#e8141e" };
const frameCol = "#6f6f8a";
const x = d3.scaleLinear().domain(timeDomain).range([X0, X1]);

const panels = [
  { key: "a", top: 40,  bottom: 303,  domain: [0, 36],         labels: yTicksA, minor: d3.range(0, 37),                 fmt: d3.format("d") },
  { key: "b", top: 313, bottom: 578,  domain: [0, 1.52],       labels: yTicksB, minor: d3.range(0, 31).map(i => i * 0.05), fmt: d3.format(".1f") },
  { key: "c", top: 590, bottom: 853,  domain: [-0.4, 20.56],   labels: yTicksC, minor: d3.range(0, 21),                 fmt: d3.format("d") },
  { key: "d", top: 865, bottom: 1128, domain: [-0.036, 1.02],  labels: yTicksD, minor: d3.range(0, 21).map(i => i * 0.05), fmt: d3.format(".1f") }
];
panels.forEach(p => { p.y = d3.scaleLinear().domain(p.domain).range([p.bottom, p.top]); });

// faint grey band behind the lower part of the figure
svg.append("rect").attr("x", 8).attr("y", 1097).attr("width", 630).attr("height", 100).attr("fill", "#f5f5f7");
svg.append("rect").attr("x", 490).attr("y", 1097).attr("width", X1 - 490).attr("height", 31).attr("fill", "#ffffff");

const defs = svg.append("defs");
panels.forEach(p => {
  defs.append("clipPath").attr("id", "clip-" + p.key)
    .append("rect").attr("x", X0).attr("y", p.top).attr("width", X1 - X0).attr("height", p.bottom - p.top);
  p.g = svg.append("g").attr("clip-path", `url(#clip-${p.key})`);
});

const lineOf = y => d3.line().x(d => x(d[0])).y(d => y(d[1]));
const zigzag = rows => rows.flatMap(r => [[r[0], r[1]], [r[0], r[2]]]);
const bandArea = y => d3.area().x(d => x(d[0])).y0(d => y(d[1])).y1(d => y(d[2]));

function drawLine(p, data, color, width, dash) {
  const path = p.g.append("path").datum(data).attr("d", lineOf(p.y))
    .attr("fill", "none").attr("stroke", color).attr("stroke-width", width)
    .attr("stroke-linejoin", "round");
  if (dash) path.attr("stroke-dasharray", dash);
  return path;
}
function drawNoisy(p, rows, color, width, fill) {
  if (fill) {
    p.g.append("path").datum(rows).attr("d", bandArea(p.y)).attr("fill", color).attr("stroke", "none");
  }
  drawLine(p, zigzag(rows), color, width);
}
function drawLevel(p, lvl, color, dash) {
  p.g.append("line").attr("x1", x(lvl[0])).attr("x2", x(lvl[1]))
    .attr("y1", p.y(lvl[2])).attr("y2", p.y(lvl[2]))
    .attr("stroke", color).attr("stroke-width", 2).attr("stroke-dasharray", dash);
}

const [pa, pb, pc, pd] = panels;

// panel (a): NBI and ICRH power
drawLine(pa, nbi99943, col.b, 2);
drawLine(pa, nbi99863, col.g, 2);
drawLine(pa, nbi99948, col.r, 2);
drawNoisy(pa, icrh99863, col.g, 1.3, true);
drawNoisy(pa, icrh99943, col.b, 1.3, true);
drawNoisy(pa, icrh99948, col.r, 1.3, true);

// panel (b): ELM signals, offset per shot
drawNoisy(pb, elm99948, col.r, 1.3, false);
drawNoisy(pb, elm99943, col.b, 1.3, false);
drawNoisy(pb, elm99863, col.g, 1.3, false);

// panel (c): radiated power
drawLine(pc, pradLfs99863, col.g, 2);
drawLine(pc, pradLfs99943, col.b, 2);
drawLine(pc, pradLfs99948, col.r, 2);
drawLine(pc, pradCore99863, col.g, 2, "7,4");
drawLine(pc, pradCore99943, col.b, 2, "7,4");
drawLine(pc, pradCore99948, col.r, 2, "7,4");
drawLevel(pc, pradRefLevel, "#c2a478", "13,13");

// panel (d): radiation fraction; panel tag sits beneath the traces here
svg.append("text").attr("x", 568).attr("y", 897).attr("font-family", "DejaVu Sans").attr("font-size", 21)
  .attr("fill", "#2e2e6a").text("(d)");
svg.node().appendChild(pd.g.node());
drawNoisy(pd, frad99863, col.g, 1.3, true);
drawNoisy(pd, frad99943, col.b, 1.3, true);
drawNoisy(pd, frad99948, col.r, 1.3, true);
drawLevel(pd, fradRefLevelHigh, "#f2a440", "13,10");
drawLevel(pd, fradRefLevelLow, "#aa9f94", "13,10");
drawLevel(pd, [9.68, fradRefLevelLow[1], fradRefLevelLow[2]], "#f2a440", "13,10");

// event markers across all panels
const markerCols = ["#545c5a", "#5d8fdb", "#e2544c"];
panels.forEach(p => {
  eventTimes.forEach((t, i) => {
    p.g.append("line").attr("x1", x(t)).attr("x2", x(t)).attr("y1", p.top + 6).attr("y2", p.bottom)
      .attr("stroke", markerCols[i]).attr("stroke-width", 1.8).attr("stroke-dasharray", "20,10");
  });
});

// ---------------- frames and axes ----------------
const xMinor = d3.range(76, 112).map(d => d / 10);
function styleAxis(sel) {
  sel.select(".domain").remove();
  sel.selectAll(".tick line").attr("stroke", frameCol).attr("stroke-width", 1.2);
}
// labels at the shared boundary of panels (b) and (c) are nudged apart
const labelNudge = { b: { 0: -2 }, c: { 20: 2 } };
panels.forEach(p => {
  const ax = svg.append("g");
  ax.append("g").attr("transform", `translate(${X0},0)`)
    .call(d3.axisLeft(p.y).tickValues(p.minor).tickSize(-4).tickFormat("")).call(styleAxis);
  const left = ax.append("g").attr("transform", `translate(${X0},0)`)
    .call(d3.axisLeft(p.y).tickValues(p.labels).tickSize(-8).tickPadding(10).tickFormat(p.fmt)).call(styleAxis);
  left.selectAll("text").attr("font-family", "DejaVu Sans").attr("font-size", 19)
    .attr("fill", p.key === "d" ? "#453d76" : "#3c3c54")
    .attr("y", d => (labelNudge[p.key] && labelNudge[p.key][d]) || 0);
  ax.append("g").attr("transform", `translate(${X1},0)`)
    .call(d3.axisRight(p.y).tickValues(p.minor).tickSize(-4).tickFormat("")).call(styleAxis);
  ax.append("g").attr("transform", `translate(${X1},0)`)
    .call(d3.axisRight(p.y).tickValues(p.labels).tickSize(-8).tickFormat("")).call(styleAxis);
  ax.append("g").attr("transform", `translate(0,${p.top})`)
    .call(d3.axisTop(x).tickValues(xMinor).tickSize(-4).tickFormat("")).call(styleAxis);
  ax.append("g").attr("transform", `translate(0,${p.top})`)
    .call(d3.axisTop(x).tickValues(xTickLabels).tickSize(-8).tickFormat("")).call(styleAxis);
  ax.append("g").attr("transform", `translate(0,${p.bottom})`)
    .call(d3.axisBottom(x).tickValues(xMinor).tickSize(-4).tickFormat("")).call(styleAxis);
  const bottom = ax.append("g").attr("transform", `translate(0,${p.bottom})`)
    .call(d3.axisBottom(x).tickValues(xTickLabels).tickSize(-8).tickPadding(19)
      .tickFormat(p.key === "d" ? d3.format("d") : "")).call(styleAxis);
  bottom.selectAll("text").attr("font-family", "DejaVu Sans").attr("font-size", 23).attr("fill", "#463c7a");
  ax.append("rect").attr("x", X0).attr("y", p.top).attr("width", X1 - X0).attr("height", p.bottom - p.top)
    .attr("fill", "none").attr("stroke", frameCol).attr("stroke-width", 1.5);
});

// ---------------- text ----------------
function label(xPos, yPos, parts, size, opts = {}) {
  const g = svg.append("g").attr("transform", `translate(${xPos},${yPos}) scale(${opts.sx || 1.1},1)`);
  const t = g.append("text").attr("font-family", "Open Sans").attr("font-size", size)
    .attr("fill", "#111").attr("text-anchor", opts.anchor || "start");
  let shifted = 0;
  parts.forEach(pt => {
    const ts = t.append("tspan").text(pt.text);
    if (pt.sub) {
      ts.attr("font-size", pt.sub).attr("dy", size * 0.27 - shifted);
      shifted = size * 0.27;
    } else if (shifted) {
      ts.attr("dy", -shifted);
      shifted = 0;
    }
  });
}
label(328, 31, [{ text: "Ip(MA)=3.5, Bt(T)=3.25" }], 21, { anchor: "middle", sx: 1.2 });
label(98, 75, [{ text: "P" }, { text: "NBI", sub: 15 }, { text: " (MW)" }], 23, { sx: 1.16 });
label(333, 252, [{ text: "P" }, { text: "ICRH", sub: 14 }, { text: " (MW)" }], 23);
label(97, 355, [{ text: "ELM behavior (au)" }], 23, { sx: 1.12 });
label(98, 630, [{ text: "(\u2013) P" }, { text: "rad LFS", sub: 17 }, { text: " (MW)" }], 23);
label(98, 665, [{ text: "(--) P" }, { text: "rad core", sub: 17 }, { text: " (MW)" }], 23);
label(98, 902, [{ text: "Radiation Fraction" }], 23);

// shot legend
const legendCols = [col.g, "#5676c8", "#e3222d"];
shots.forEach((s, i) => {
  svg.append("text").attr("x", 185).attr("y", [185, 212, 237][i])
    .attr("font-family", "DejaVu Sans").attr("font-size", 22).attr("fill", legendCols[i]).text(s);
});

// panel tags
[["(a)", 69], ["(b)", 347], ["(c)", 622]].forEach(([s, yy]) => {
  svg.append("text").attr("x", 568).attr("y", yy).attr("font-family", "DejaVu Sans")
    .attr("font-size", 21).attr("fill", "#55556a").text(s);
});

// time axis title
svg.append("text").attr("x", 350).attr("y", 1189).attr("text-anchor", "middle")
  .attr("font-family", "DejaVu Sans").attr("font-size", 26).attr("fill", "#463c7a").text("t (s)");
</script>
</body>
</html>
